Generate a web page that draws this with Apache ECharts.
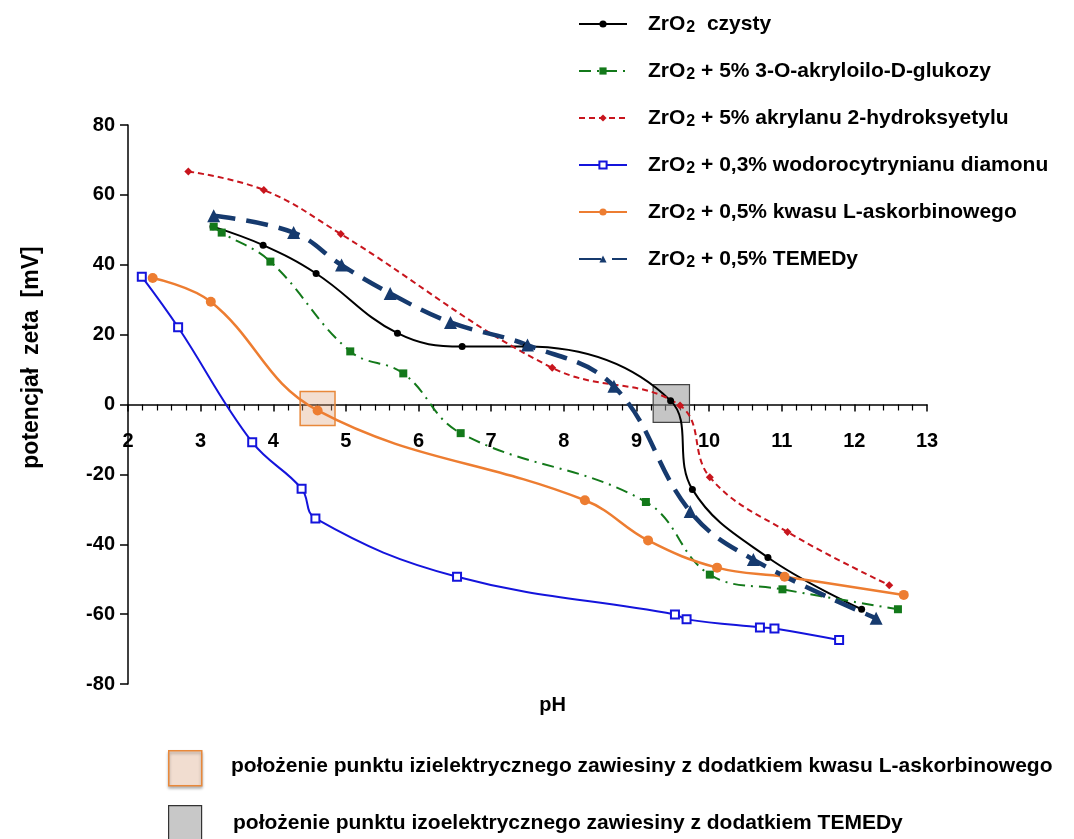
<!DOCTYPE html>
<html>
<head>
<meta charset="utf-8">
<title>potencjał zeta ZrO2</title>
<script src="https://cdn.jsdelivr.net/npm/echarts@6/dist/echarts.min.js"></script>
<style>
html,body{margin:0;padding:0;background:#fff;}
#main{width:1074px;height:839px;}
</style>
</head>
<body>
<div id="main"></div>
<script>
// pH i potencjal zeta [mV]
var czystyPH   = [3.17, 3.86, 4.59, 5.71, 6.60, 7.48, 9.47, 9.77, 10.81, 12.10];
var czystyZeta = [50.9, 45.6, 37.5, 20.4, 16.6, 16.6, 1.1, -24.3, -43.8, -58.6];

var glukozyPH   = [3.18, 3.29, 3.96, 5.06, 5.79, 6.58, 9.13, 10.01, 11.01, 12.60];
var glukozyZeta = [50.9, 49.2, 40.9, 15.2, 8.9, -8.2, -27.9, -48.7, -52.9, -58.6];

var akrylanPH   = [2.83, 3.87, 4.93, 7.84, 9.60, 10.01, 11.08, 12.48];
var akrylanZeta = [66.7, 61.4, 48.8, 10.5, -0.3, -20.8, -36.5, -51.7];

var diamonuPH   = [2.19, 2.69, 3.71, 4.39, 4.58, 6.53, 9.53, 9.69, 10.70, 10.90, 11.79];
var diamonuZeta = [36.6, 22.1, -10.8, -24.1, -32.6, -49.3, -60.1, -61.5, -63.8, -64.1, -67.4];

var askorbPH   = [2.34, 3.14, 4.61, 8.29, 9.16, 10.11, 11.04, 12.68];
var askorbZeta = [36.2, 29.4, -1.7, -27.4, -38.9, -46.7, -49.3, -54.5];

var temedPH   = [3.18, 4.28, 4.94, 5.61, 6.44, 7.50, 8.69, 9.74, 10.61, 12.30];
var temedZeta = [54.0, 49.2, 39.9, 31.8, 23.5, 17.0, 5.2, -30.6, -44.4, -61.2];

// punkty izoelektryczne (zakres pH, zakres zeta)
var iepAskorb = [4.37, 4.85, 3.7, -6.0];
var iepTemed  = [9.23, 9.73, 5.7, -5.1];

var nazwy = [
    'ZrO2  czysty',
    'ZrO2 + 5% 3-O-akryloilo-D-glukozy',
    'ZrO2 + 5% akrylanu 2-hydroksyetylu',
    'ZrO2 + 0,3% wodorocytrynianu diamonu',
    'ZrO2 + 0,5% kwasu L-askorbinowego',
    'ZrO2 + 0,5% TEMEDy'
];

function pary(xs, ys){
    var out = [];
    for (var i = 0; i < xs.length; i++) {
        out.push([xs[i], ys[i]]);
    }
    return out;
}

function ramka(r){
    return [[{xAxis: r[0], yAxis: r[2]}, {xAxis: r[1], yAxis: r[3]}]];
}

var dom = document.getElementById("main");
var myChart = echarts.init(dom);
var option = null;
var font = 'Liberation Sans';

option = {
    backgroundColor: '#fff',
    animation: false,
    textStyle: {fontFamily: font},
    legend: {
        orient: 'vertical',
        left: 573,
        top: 7,
        itemWidth: 48,
        itemHeight: 9,
        itemGap: 23,
        data: nazwy,
        formatter: function (name) {
            return name.replace('ZrO2', 'ZrO{sub|2}');
        },
        textStyle: {
            fontFamily: font,
            fontWeight: 'bold',
            fontSize: 21,
            color: '#000',
            lineHeight: 24,
            padding: [0, 0, 0, 16],
            rich: {
                sub: {
                    fontFamily: font,
                    fontWeight: 'bold',
                    fontSize: 16,
                    color: '#000',
                    verticalAlign: 'bottom',
                    lineHeight: 24,
                    padding: [8, 0, 0, 1]
                }
            }
        }
    },
    grid: {
        left: 128,
        right: 147,
        top: 125,
        bottom: 155,
        outerBoundsMode: 'none'
    },
    xAxis: {
        type: 'value',
        min: 2,
        max: 13,
        interval: 1,
        name: 'pH',
        nameLocation: 'middle',
        nameGap: 11,
        nameMoveOverlap: false,
        nameTextStyle: {fontFamily: font, fontWeight: 'bold', fontSize: 20, color: '#000', padding: [0, 0, 0, 50]},
        axisLine: {onZero: true, lineStyle: {color: '#000', width: 1.5}},
        axisTick: {show: true, length: 7, lineStyle: {color: '#000', width: 1.5}},
        minorTick: {show: true, splitNumber: 5, length: 6, lineStyle: {color: '#000', width: 1.2}},
        // etykiety osi pH pod linia zera
        axisLabel: {fontFamily: font, fontWeight: 'bold', fontSize: 20, color: '#000', margin: -253},
        splitLine: {show: false}
    },
    yAxis: {
        type: 'value',
        min: -80,
        max: 80,
        interval: 20,
        name: 'potencjał  zeta  [mV]',
        nameLocation: 'middle',
        nameGap: 85,
        nameTextStyle: {fontFamily: font, fontWeight: 'bold', fontSize: 23, color: '#000', padding: [0, 0, 0, 94]},
        axisLine: {onZero: false, lineStyle: {color: '#000', width: 1.5}},
        axisTick: {show: true, length: 8, lineStyle: {color: '#000', width: 1.5}},
        axisLabel: {fontFamily: font, fontWeight: 'bold', fontSize: 20, color: '#000', margin: 13},
        splitLine: {show: false}
    },
    series: [
        {
            name: nazwy[0],
            type: 'line',
            smooth: 0.4,
            data: pary(czystyPH, czystyZeta),
            symbol: 'circle',
            symbolSize: 7,
            itemStyle: {color: '#000'},
            lineStyle: {color: '#000', width: 2}
        },
        {
            name: nazwy[1],
            type: 'line',
            smooth: 0.4,
            data: pary(glukozyPH, glukozyZeta),
            symbol: 'rect',
            symbolSize: 8,
            itemStyle: {color: '#13791a'},
            lineStyle: {color: '#13791a', width: 2, type: [12, 6, 2, 6]}
        },
        {
            name: nazwy[2],
            type: 'line',
            smooth: 0.4,
            data: pary(akrylanPH, akrylanZeta),
            symbol: 'diamond',
            symbolSize: 8,
            itemStyle: {color: '#c8151d'},
            lineStyle: {color: '#c8151d', width: 2, type: [6, 4]}
        },
        {
            name: nazwy[3],
            type: 'line',
            smooth: 0.4,
            data: pary(diamonuPH, diamonuZeta),
            symbol: 'emptyRect',
            symbolSize: 8,
            itemStyle: {color: '#1414dc', borderWidth: 1.5},
            lineStyle: {color: '#1414dc', width: 2}
        },
        {
            name: nazwy[4],
            type: 'line',
            smooth: 0.4,
            data: pary(askorbPH, askorbZeta),
            symbol: 'circle',
            symbolSize: 10,
            itemStyle: {color: '#ed7d31'},
            lineStyle: {color: '#ed7d31', width: 2.5},
            markArea: {
                silent: true,
                itemStyle: {color: 'rgba(222,160,120,0.35)', borderColor: '#e8883a', borderWidth: 1.5},
                data: ramka(iepAskorb)
            }
        },
        {
            name: nazwy[5],
            type: 'line',
            smooth: 0.4,
            data: pary(temedPH, temedZeta),
            symbol: 'triangle',
            symbolSize: 13,
            itemStyle: {color: '#163a6e'},
            lineStyle: {color: '#163a6e', width: 4.5, type: [22, 11]},
            markArea: {
                silent: true,
                itemStyle: {color: 'rgba(150,150,150,0.55)', borderColor: '#444', borderWidth: 1.2},
                data: ramka(iepTemed)
            }
        }
    ],
    graphic: [
        {
            type: 'rect',
            left: 168,
            top: 750,
            shape: {width: 33, height: 35},
            style: {fill: '#f1ddd0', stroke: '#e8883a', lineWidth: 1.5, shadowBlur: 3, shadowColor: 'rgba(0,0,0,0.3)', shadowOffsetY: 2}
        },
        {
            type: 'text',
            left: 231,
            top: 756,
            style: {text: 'położenie punktu izielektrycznego zawiesiny z dodatkiem kwasu L-askorbinowego', fontFamily: font, fontWeight: 'bold', fontSize: 21, fill: '#000'}
        },
        {
            type: 'rect',
            left: 168,
            top: 805,
            shape: {width: 33, height: 36},
            style: {fill: '#c8c8c8', stroke: '#333', lineWidth: 1.2}
        },
        {
            type: 'text',
            left: 233,
            top: 813,
            style: {text: 'położenie punktu izoelektrycznego zawiesiny z dodatkiem TEMEDy', fontFamily: font, fontWeight: 'bold', fontSize: 21, fill: '#000'}
        }
    ]
};

if (option && typeof option === "object") {
    myChart.setOption(option, true);
}
</script>
</body>
</html>
